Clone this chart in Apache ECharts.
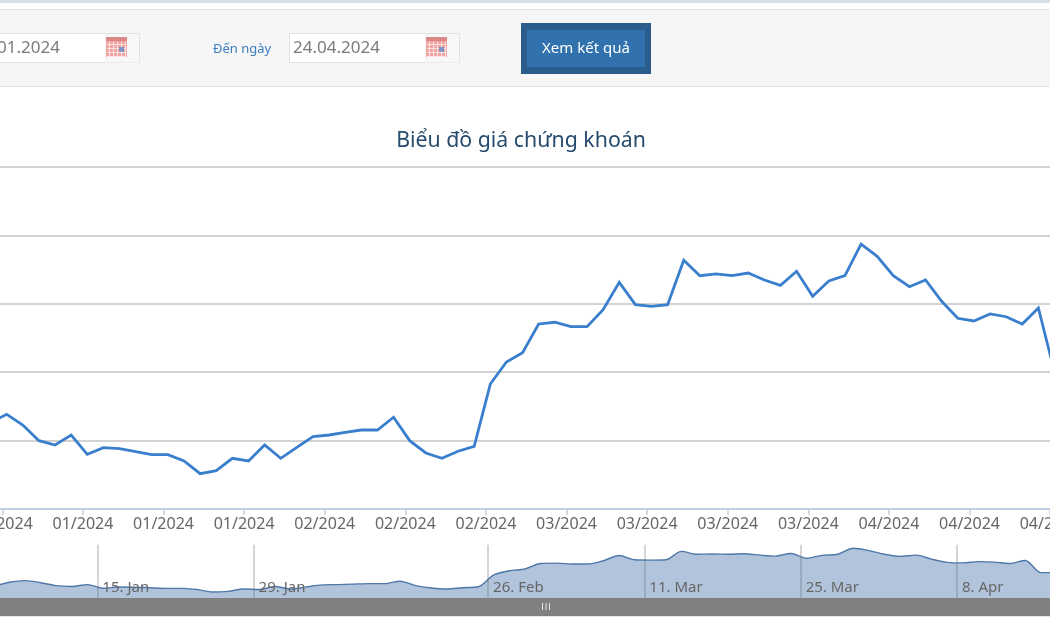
<!DOCTYPE html>
<html>
<head>
<meta charset="utf-8">
<title>Biểu đồ giá chứng khoán</title>
<script src="https://cdn.jsdelivr.net/npm/echarts@6/dist/echarts.min.js"></script>
<style>
  html, body { margin: 0; padding: 0; background: #fff; }
  #chart { width: 1050px; height: 630px; }
</style>
</head>
<body>
<div id="chart"></div>
<script>
// Daily closing values, oldest first (session index 0 is the first one plotted)
const closes = [
  9.36, 12.63, 13.85, 12.28, 9.99, 9.36, 10.82, 8.0, 8.96, 8.82,
  8.38, 7.94, 7.94, 7.02, 5.16, 5.6, 7.41, 7.02, 9.36, 7.41,
  9.02, 10.57, 10.82, 11.21, 11.55, 11.55, 13.41, 9.99, 8.19, 7.41,
  8.44, 9.17, 18.27, 21.49, 22.85, 27.05, 27.3, 26.65, 26.65, 29.14,
  33.14, 29.87, 29.63, 29.87, 36.36, 34.11, 34.36, 34.11, 34.5, 33.48,
  32.7, 34.75, 31.1, 33.33, 34.11, 38.74, 36.94, 34.11, 32.5, 33.48,
  30.36, 27.88, 27.49, 28.51, 28.11, 27.05, 29.39, 20.03, 20.03
];

// Main axis ticks: session index and month label
const mainTickSessions = [2, 7, 12, 17, 22, 27, 32, 37, 42, 47, 52, 57, 62, 67];
const mainTickLabels = ['01/2024', '01/2024', '01/2024', '01/2024', '02/2024', '02/2024', '02/2024',
  '03/2024', '03/2024', '03/2024', '03/2024', '04/2024', '04/2024', '04/2024'];

// Navigator ticks: session index and date label
const navTickSessions = [7, 17, 32, 42, 52, 62];
const navTickLabels = ['15. Jan', '29. Jan', '26. Feb', '11. Mar', '25. Mar', '8. Apr'];

const fromDate = '01.2024';
const toDate = '24.04.2024';

const FONT = '"Noto Sans", "Open Sans", sans-serif';
const mainShift = 0.27;
const navShift = 0.37;
const mainTicks = mainTickSessions.map(s => s - mainShift);
const navTicks = navTickSessions.map(s => s - navShift);
const seriesData = closes.map((v, i) => [i, v]);

function labelFor(ticks, labels) {
  return value => {
    const i = ticks.findIndex(t => Math.abs(t - value) < 1e-6);
    return i >= 0 ? labels[i] : '';
  };
}

// Small calendar glyph used by the two date inputs
function calendarIcon(x, y) {
  const parts = [
    { type: 'rect', shape: { x: 0, y: 0, width: 21, height: 20 }, style: { fill: '#f0a3a0' } },
    { type: 'rect', shape: { x: 0, y: 0, width: 21, height: 4 }, style: { fill: '#d98886' } }
  ];
  for (let gx = 3; gx < 21; gx += 4) {
    parts.push({ type: 'rect', shape: { x: gx, y: 5, width: 1, height: 14 }, style: { fill: '#fde4e2' } });
  }
  for (let gy = 7; gy < 20; gy += 4) {
    parts.push({ type: 'rect', shape: { x: 1, y: gy, width: 19, height: 1 }, style: { fill: '#fde4e2' } });
  }
  parts.push({ type: 'rect', shape: { x: 13, y: 10, width: 5, height: 5 }, style: { fill: '#7f94c8' } });
  return { type: 'group', x, y, children: parts };
}

function dateInput(x, width) {
  return [
    { type: 'rect', shape: { x: x + 0.5, y: 33.5, width, height: 29 }, style: { fill: '#fff', stroke: '#e2e2e2' } },
    { type: 'rect', shape: { x: x + width - 34, y: 34, width: 33.5, height: 28.5 }, style: { fill: '#f7f7f7' } }
  ];
}

const formBar = [
  { type: 'rect', shape: { x: 0, y: 0, width: 1050, height: 3 }, style: { fill: '#d6e0e8' } },
  { type: 'rect', shape: { x: -2, y: 9.5, width: 1054, height: 77 }, style: { fill: '#f6f6f6', stroke: '#e4e4e4' } },
  ...dateInput(-40, 179),
  calendarIcon(106, 37),
  { type: 'text', x: -3, y: 48, style: { text: fromDate, font: '17px ' + FONT, fill: '#7a7a7a', textVerticalAlign: 'middle' } },
  { type: 'text', x: 213, y: 49, style: { text: 'Đến ngày', font: '13px ' + FONT, fill: '#3b7fc0', textVerticalAlign: 'middle' } },
  ...dateInput(289, 170),
  calendarIcon(426, 37),
  { type: 'text', x: 293, y: 48, style: { text: toDate, font: '17px ' + FONT, fill: '#7a7a7a', textVerticalAlign: 'middle' } },
  { type: 'rect', shape: { x: 521, y: 23, width: 130, height: 51 }, style: { fill: '#2a5d8c' } },
  { type: 'rect', shape: { x: 527, y: 30, width: 118, height: 37 }, style: { fill: '#3071ae' } },
  { type: 'text', x: 586, y: 49, style: { text: 'Xem kết quả', font: '15px ' + FONT, fill: '#fff', textAlign: 'center', textVerticalAlign: 'middle' } }
];

// Navigator scrollbar strip with its grip
const scrollbar = [
  { type: 'rect', z: 50, shape: { x: 0, y: 598, width: 1050, height: 18 }, style: { fill: '#808080' } },
  { type: 'rect', z: 50, shape: { x: 0, y: 616, width: 1050, height: 1 }, style: { fill: '#e6e6e6' } },
  { type: 'rect', z: 51, shape: { x: 542, y: 603, width: 1, height: 7 }, style: { fill: '#e8e8e8' } },
  { type: 'rect', z: 51, shape: { x: 545.5, y: 603, width: 1, height: 7 }, style: { fill: '#e8e8e8' } },
  { type: 'rect', z: 51, shape: { x: 549, y: 603, width: 1, height: 7 }, style: { fill: '#e8e8e8' } }
];

const chart = echarts.init(document.getElementById('chart'), null, { renderer: 'canvas' });
chart.setOption({
  animation: false,
  backgroundColor: '#ffffff',
  title: {
    text: 'Biểu đồ giá chứng khoán',
    left: 516,
    top: 125,
    textAlign: 'center',
    textStyle: { fontFamily: FONT, fontSize: 21.3, fontWeight: 'normal', color: '#274b6d' }
  },
  grid: [
    { outerBoundsMode: 'none', left: -25.54, right: -40, top: 167, bottom: 121 },
    { outerBoundsMode: 'none', left: -6.31, right: -37.8, top: 544.7, bottom: 31.35 }
  ],
  xAxis: [
    {
      type: 'value', gridIndex: 0, min: 0, max: (1050 + 40 + 25.54) / 16.12,
      splitLine: { show: false },
      axisLine: { show: true, onZero: false, lineStyle: { color: '#c0d0e0', width: 2 } },
      axisTick: { show: true, customValues: mainTicks, length: 6, lineStyle: { color: '#c0d0e0', width: 1.5 } },
      axisLabel: {
        show: true, customValues: mainTicks, margin: 7, color: '#666666',
        fontFamily: FONT, fontSize: 16, showMinLabel: true, showMaxLabel: true,
        formatter: labelFor(mainTicks, mainTickLabels)
      }
    },
    {
      type: 'value', gridIndex: 1, z: 5, min: 0, max: 70,
      axisLine: { show: false },
      axisTick: { show: false, customValues: navTicks },
      splitLine: { show: true, lineStyle: { color: 'rgba(95,105,115,0.36)', width: 1.5 } },
      axisLabel: {
        show: true, customValues: navTicks, inside: true, align: 'left', margin: 3,
        padding: [0, 0, 0, 5], color: '#666666', fontFamily: FONT, fontSize: 15,
        showMinLabel: true, showMaxLabel: true,
        formatter: labelFor(navTicks, navTickLabels)
      }
    }
  ],
  yAxis: [
    {
      type: 'value', gridIndex: 0, min: 0, max: 50, interval: 10,
      axisLine: { show: false }, axisTick: { show: false }, axisLabel: { show: false },
      splitLine: { show: true, lineStyle: { color: '#c4c4c4', width: 1.5 } }
    },
    {
      type: 'value', gridIndex: 1, min: 0, max: 41.5,
      axisLine: { show: false }, axisTick: { show: false }, axisLabel: { show: false },
      splitLine: { show: false }
    }
  ],
  series: [
    {
      name: 'Giá', type: 'line', xAxisIndex: 0, yAxisIndex: 0, data: seriesData,
      showSymbol: false, symbol: 'none', clip: true,
      lineStyle: { color: '#3a7fcd', width: 2.8, join: 'miter' }
    },
    {
      name: 'Navigator', type: 'line', xAxisIndex: 1, yAxisIndex: 1, data: seriesData,
      showSymbol: false, symbol: 'none', smooth: 0.3,
      lineStyle: { color: '#4f78a8', width: 1.4 },
      areaStyle: { color: '#b2c4dc', opacity: 1 }
    }
  ],
  graphic: { elements: [...formBar, ...scrollbar] }
});
</script>
</body>
</html>
